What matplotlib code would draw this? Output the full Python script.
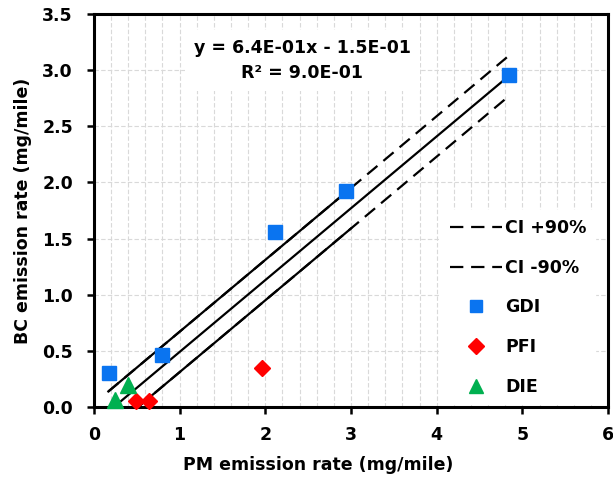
import numpy as np
import matplotlib.pyplot as plt
from matplotlib.ticker import MultipleLocator

plt.rcParams["font.family"] = ["DejaVu Sans"]
plt.rcParams["font.weight"] = "bold"

# data
gdi_x = [0.18, 0.79, 2.11, 2.94, 4.84]
gdi_y = [0.30, 0.46, 1.56, 1.92, 2.96]
pfi_x = [0.49, 0.645, 1.96]
pfi_y = [0.05, 0.05, 0.35]
die_x = [0.245, 0.40]
die_y = [0.06, 0.20]

slope = 0.64
intercept = -0.15
ci_offset = 0.18
# x ranges of the drawn lines
fit_x = [0.24, 4.83]
upper_x = [0.17, 4.83]
lower_x = [0.52, 4.83]
solid_end = 2.95

fig = plt.figure(figsize=(6.13, 4.84), dpi=100)
ax = fig.add_axes([0.153, 0.159, 0.839, 0.812])

ax.set_xlim(0, 6)
ax.set_ylim(0, 3.5)
ax.xaxis.set_major_locator(MultipleLocator(1))
ax.xaxis.set_minor_locator(MultipleLocator(0.2))
ax.yaxis.set_major_locator(MultipleLocator(0.5))
ax.set_yticks(np.arange(0, 3.51, 0.5), labels=["%.1f" % v for v in np.arange(0, 3.51, 0.5)])

ax.grid(which="both", axis="x", color="#d9d9d9", ls=(0, (4, 2)), lw=0.8, zorder=0)
ax.grid(which="major", axis="y", color="#d9d9d9", ls=(0, (4, 2)), lw=0.8, zorder=0)
ax.tick_params(which="minor", length=0)
ax.tick_params(which="major", direction="out", length=5, width=1.8, labelsize=12.5)
ax.tick_params(axis="y", pad=10)
ax.tick_params(axis="x", pad=9)
for s in ax.spines.values():
    s.set_linewidth(2.2)

# fit and CI lines
def line(x, off=0.0):
    x = np.array(x)
    return x, slope * x + intercept + off

ax.plot(*line(fit_x), color="black", lw=1.6, zorder=3)
ax.plot(*line(upper_x, ci_offset), color="black", lw=1.6, ls=(0, (6, 3.5)), zorder=3, label="CI +90%")
ax.plot(*line(lower_x, -ci_offset), color="black", lw=1.6, ls=(0, (6, 3.5)), zorder=3, label="CI -90%")
ax.plot(*line([upper_x[0], solid_end], ci_offset), color="black", lw=1.6, zorder=3)
ax.plot(*line([lower_x[0], solid_end + 0.05], -ci_offset), color="black", lw=1.6, zorder=3)

ax.plot(gdi_x, gdi_y, "s", color="#0a74f0", ms=10, ls="none", zorder=4, label="GDI")
ax.plot(pfi_x, pfi_y, "D", color="#ff0000", ms=8.5, ls="none", zorder=4, label="PFI", clip_on=False)
ax.plot(die_x, die_y, "^", color="#00b050", ms=11, ls="none", zorder=4, label="DIE", clip_on=False)

ax.text(2.43, 2.895, "y = 6.4E-01x - 1.5E-01\nR² = 9.0E-01", ha="center", va="bottom",
        fontsize=12.5, linespacing=1.5, zorder=5,
        bbox=dict(facecolor="white", edgecolor="none", pad=6.5))

leg = ax.legend(loc="lower right", bbox_to_anchor=(0.98, 0.0), frameon=True, fancybox=False,
                framealpha=1, edgecolor="white", prop=dict(size=12.5, weight="bold"),
                labelspacing=1.25, handlelength=3.0, handletextpad=0.2, borderpad=0.5,
                borderaxespad=0.15, markerscale=0.9)
leg.set_zorder(6)

ax.set_xlabel("PM emission rate (mg/mile)", fontsize=12.5, fontweight="bold")
ax.set_ylabel("BC emission rate (mg/mile)", fontsize=12.5, fontweight="bold")
ax.xaxis.set_label_coords(0.436, -0.125)
ax.yaxis.set_label_coords(-0.12, 0.5)

fig.savefig("out.png", dpi=100)
